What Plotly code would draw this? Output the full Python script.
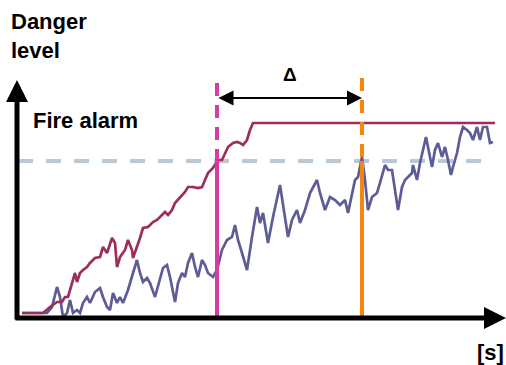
import plotly.graph_objects as go

# Time (arbitrary units) and danger level readings
red_t = [5, 26, 33, 40, 45, 48, 51, 55, 58, 60, 63, 66, 70, 73, 78, 83, 86, 90, 95, 98, 100, 103, 108, 111, 115, 116,
         120, 123, 126, 131, 136, 140, 145, 148, 151, 155, 158, 163, 168, 171, 176, 181, 185, 188, 191, 196, 201, 205,
         208, 211, 216, 220, 223, 226, 230, 233, 236, 478]
red_level = [5, 5, 11, 16, 16, 21, 21, 35, 45, 36, 45, 48, 51, 55, 60, 61, 71, 65, 80, 75, 51, 61, 68, 78, 68, 60,
             71, 80, 90, 91, 96, 98, 103, 106, 103, 108, 115, 120, 126, 131, 131, 130, 131, 138, 145, 150, 158, 158,
             165, 171, 175, 176, 175, 173, 178, 188, 195, 195]

blue_t = [5, 30, 35, 40, 43, 46, 50, 53, 56, 60, 63, 66, 70, 73, 78, 83, 86, 90, 93, 96, 100, 103, 106, 111, 116, 120,
          123, 126, 130, 133, 138, 143, 146, 150, 153, 158, 161, 165, 168, 171, 175, 178, 181, 185, 188, 191, 196, 200,
          205, 210, 215, 218, 221, 225, 230, 235, 240, 243, 246, 251, 256, 263, 268, 271, 275, 280, 283, 288, 293, 300,
          303, 308, 313, 318, 323, 328, 331, 335, 338, 341, 345, 348, 351, 355, 360, 363, 368, 371, 375, 378, 381, 385,
          388, 391, 395, 396, 400, 403, 406, 409, 411, 415, 418, 421, 425, 428, 431, 434, 436, 440, 443, 446, 450, 453,
          456, 460, 463, 466, 470, 473, 476]
blue_level = [5, 5, 11, 31, 21, 1, 5, 18, 5, 8, 5, 15, 21, 15, 26, 30, 21, 11, 8, 25, 15, 21, 15, 28, 45, 58,
              45, 36, 40, 35, 21, 38, 50, 53, 41, 16, 35, 45, 41, 55, 65, 51, 41, 58, 53, 45, 41, 48,
              68, 78, 81, 93, 78, 65, 48, 81, 111, 95, 105, 75, 101, 133, 101, 81, 98, 108, 95, 108, 125, 138,
              125, 108, 121, 118, 113, 118, 105, 125, 138, 141, 161, 138, 108, 121, 125, 135, 153, 148, 148, 128, 108, 131,
              138, 141, 145, 153, 138, 155, 168, 181, 171, 151, 168, 175, 161, 171, 158, 143, 151, 165, 181, 191, 188, 185,
              178, 191, 178, 191, 191, 175, 176]

alarm_level = 157
detect_times = [200, 345]          # red-curve detection, blue-curve detection
detect_colors = ["#d63ca4", "#f5860f"]
detect_tops = [235, 240]
threshold_end = 465

FONT = "Liberation Sans, Arial, sans-serif"

fig = go.Figure()
fig.add_trace(go.Scatter(x=blue_t, y=blue_level, mode="lines",
                         line=dict(color="#5e5c96", width=2.7), hoverinfo="skip"))
fig.add_trace(go.Scatter(x=red_t, y=red_level, mode="lines",
                         line=dict(color="#9c2d5c", width=2.7), hoverinfo="skip"))

shapes = []
# alarm threshold
shapes.append(dict(type="line", xref="x", yref="y", x0=1, x1=threshold_end, y0=alarm_level, y1=alarm_level,
                   line=dict(color="#b9c8d4", width=4, dash="15px,13px"), layer="below"))
for t, c, top in zip(detect_times, detect_colors, detect_tops):
    shapes.append(dict(type="line", xref="x", yref="y", x0=t, x1=t, y0=top, y1=alarm_level,
                       line=dict(color=c, width=4, dash="13px,9px")))
    shapes.append(dict(type="line", xref="x", yref="y", x0=t, x1=t, y0=alarm_level, y1=0,
                       line=dict(color=c, width=4)))
fig.update_layout(shapes=shapes)

annotations = [
    # y axis arrow
    dict(x=0, y=238, ax=0, ay=-3, xref="x", yref="y", axref="x", ayref="y", text="",
         showarrow=True, arrowhead=2, arrowwidth=5, arrowsize=0.88, arrowcolor="black"),
    # x axis arrow
    dict(x=489, y=0, ax=-3, ay=0, xref="x", yref="y", axref="x", ayref="y", text="",
         showarrow=True, arrowhead=2, arrowwidth=5, arrowsize=0.88, arrowcolor="black"),
    # delta arrow
    dict(x=detect_times[1], y=220, ax=detect_times[0], ay=220, xref="x", yref="y", axref="x", ayref="y", text="",
         showarrow=True, arrowhead=2, startarrowhead=2, arrowside="end+start", arrowwidth=2, arrowsize=1.5,
         startarrowsize=1.5, arrowcolor="black"),
    dict(x=(detect_times[0] + detect_times[1]) / 2, y=244, xref="x", yref="y", text="<b>Δ</b>", showarrow=False,
         font=dict(size=19, color="black", family=FONT)),
    dict(x=-8, y=282, xref="x", yref="y", text="<b>Danger<br>level</b>", showarrow=False, xanchor="left",
         align="left", font=dict(size=22, color="black", family=FONT)),
    dict(x=14, y=198, xref="x", yref="y", text="<b>Fire alarm</b>", showarrow=False, xanchor="left",
         font=dict(size=22, color="black", family=FONT)),
    dict(x=489, y=-34, xref="x", yref="y", text="<b>[s]</b>", showarrow=False, xanchor="right",
         font=dict(size=22, color="black", family=FONT)),
]
fig.update_layout(annotations=annotations)

fig.update_layout(
    width=506, height=365,
    margin=dict(l=0, r=0, t=0, b=0),
    paper_bgcolor="white", plot_bgcolor="white",
    showlegend=False,
    xaxis=dict(range=[-17, 489], visible=False, fixedrange=True),
    yaxis=dict(range=[-47, 318], visible=False, fixedrange=True),
)
fig.write_html("out.html", config={"displayModeBar": False},
               post_script="document.body.style.margin='0px';document.body.style.overflow='hidden';")
